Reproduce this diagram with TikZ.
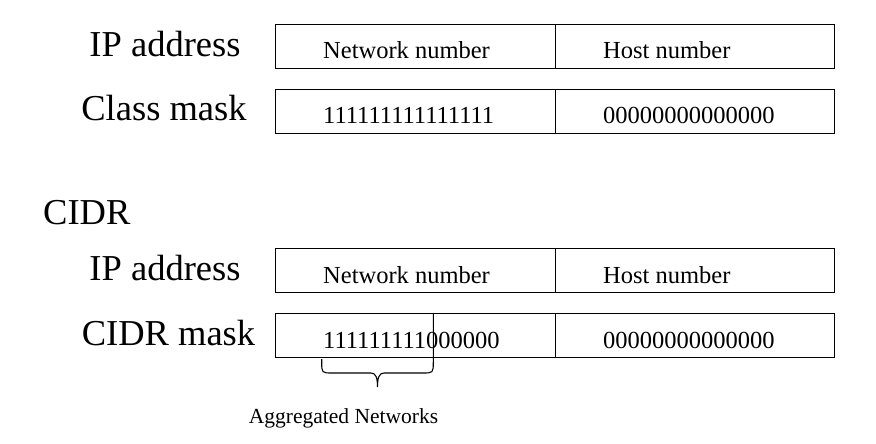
\documentclass[tikz,border=0pt]{standalone}
\usepackage{fontspec}
\setmainfont{Liberation Serif}
\begin{document}
\begin{tikzpicture}[x=1pt,y=-1pt,
  cell/.style={draw, rectangle, inner sep=0pt, line width=1.1pt, anchor=north west, minimum height=44pt},
  leftcell/.style={cell, minimum width=280.5pt},
  rightcell/.style={cell, minimum width=279pt},
  celltext/.style={anchor=base west, inner sep=0pt, font=\fontsize{24.5}{29}\selectfont},
  rowlabel/.style={anchor=base, inner sep=0pt, font=\fontsize{36.5}{42}\selectfont},
  bracepath/.style={draw, line width=1.1pt}]
\useasboundingbox (0,0) rectangle (876,444);
% cells
\node[leftcell]  (a1) at (274.5,24)  {};
\node[rightcell] (b1) at (555,24)    {};
\node[leftcell]  (a2) at (274.5,89)  {};
\node[rightcell] (b2) at (555,89)    {};
\node[leftcell]  (a3) at (274.5,248) {};
\node[rightcell] (b3) at (555,248)   {};
\node[leftcell]  (a4) at (274.5,313) {};
\node[rightcell] (b4) at (555,313)   {};
% cell texts
\node[celltext] (ta1) at (323,59)  {Network number};
\node[celltext] (tb1) at (603,59)  {Host number};
\node[celltext] (ta2) at (323,124) {111111111111111};
\node[celltext] (tb2) at (603,124) {00000000000000};
\node[celltext] (ta3) at (323,283) {Network number};
\node[celltext] (tb3) at (603,283) {Host number};
\node[celltext] (ta4) at (323,348) {111111111000000};
\node[celltext] (tb4) at (603,348) {00000000000000};
% row labels
\node[rowlabel] (l1) at (165,56.5) {IP address};
\node[rowlabel] (l2) at (164,121)  {Class mask};
\node[rowlabel, anchor=base west] (cidr) at (43,224) {CIDR};
\node[rowlabel] (l3) at (165,280)  {IP address};
\node[rowlabel] (l4) at (168.5,345) {CIDR mask};
% aggregation line and brace
\coordinate (vtop) at (433.3,313);
\coordinate (bend) at (321.7,359);
\path[bracepath] (vtop) -- (433.3,362) .. controls (433.3,373) .. (422.3,373)
  -- (384,373) .. controls (379,373) and (377.5,378) .. (377.5,387)
  .. controls (377.5,378) and (376,373) .. (371,373)
  -- (332.7,373) .. controls (321.7,373) .. (321.7,362) -- (bend);
\node[anchor=base, inner sep=0pt, font=\fontsize{21.5}{26}\selectfont] (agg) at (343.5,423) {Aggregated Networks};
\end{tikzpicture}
\end{document}
